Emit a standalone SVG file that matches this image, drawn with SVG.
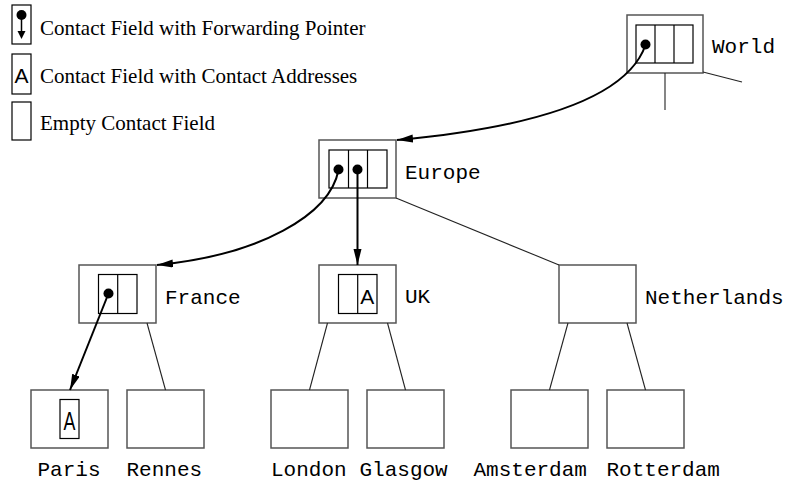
<svg xmlns="http://www.w3.org/2000/svg" width="787" height="481" viewBox="0 0 787 481">
<defs>
<style>
.box{fill:#fff;stroke:#555;stroke-width:1.5}
.cell{fill:none;stroke:#000;stroke-width:1.2}
.edge{fill:none;stroke:#222;stroke-width:1.1}
.ptr{fill:none;stroke:#000;stroke-width:2;marker-end:url(#ah)}
.dot{fill:#000}
.mono{font-family:"Liberation Mono","Courier New",monospace;font-size:21px;fill:#000}
.serif{font-family:"Liberation Serif","Times New Roman",serif;font-size:21px;fill:#000}
.sans{font-family:"Liberation Sans",Arial,sans-serif;font-size:21px;fill:#000}
</style>
<marker id="ah" markerUnits="userSpaceOnUse" markerWidth="17" markerHeight="9" refX="16" refY="4" orient="auto">
<path d="M0,0 L16,4 L0,8 Z" fill="#000"/>
</marker>
</defs>

<g id="legend">
<rect class="cell" x="12" y="5" width="19" height="39"/>
<circle class="dot" cx="21.5" cy="15" r="5"/>
<line x1="21.5" y1="15" x2="21.5" y2="32" stroke="#000" stroke-width="1.5"/>
<path d="M17.5,31 L25.5,31 L21.5,39 Z" fill="#000"/>
<text class="serif" x="40" y="35">Contact Field with Forwarding Pointer</text>
<rect class="cell" x="12" y="54" width="19" height="40"/>
<text class="sans" x="21.5" y="83" text-anchor="middle">A</text>
<text class="serif" x="40" y="83">Contact Field with Contact Addresses</text>
<rect class="cell" x="12" y="102" width="19" height="38"/>
<text class="serif" x="40" y="130">Empty Contact Field</text>
</g>

<g id="world">
<rect class="box" x="627" y="15" width="76" height="58"/>
<rect class="cell" x="636" y="25" width="57" height="38"/>
<line class="cell" x1="655" y1="25" x2="655" y2="63"/>
<line class="cell" x1="674" y1="25" x2="674" y2="63"/>
<circle class="dot" cx="645.5" cy="44.5" r="5"/>
<text class="mono" x="712" y="53">World</text>
</g>

<g id="europe">
<rect class="box" x="319" y="140" width="77" height="58"/>
<rect class="cell" x="329" y="150" width="58" height="38"/>
<line class="cell" x1="348.5" y1="150" x2="348.5" y2="188"/>
<line class="cell" x1="367.5" y1="150" x2="367.5" y2="188"/>
<circle class="dot" cx="338.5" cy="169.5" r="5"/>
<circle class="dot" cx="357.5" cy="169.5" r="5"/>
<text class="mono" x="405" y="179">Europe</text>
</g>

<g id="france">
<rect class="box" x="79" y="265" width="77" height="58"/>
<rect class="cell" x="98.5" y="274.5" width="38.5" height="39"/>
<line class="cell" x1="117.7" y1="274.5" x2="117.7" y2="313.5"/>
<circle class="dot" cx="108.5" cy="293.5" r="5"/>
<text class="mono" x="165" y="304">France</text>
</g>

<g id="uk">
<rect class="box" x="319" y="265" width="77" height="58"/>
<rect class="cell" x="338.5" y="274.5" width="38.5" height="39"/>
<line class="cell" x1="357.7" y1="274.5" x2="357.7" y2="313.5"/>
<text class="sans" x="367.3" y="303.5" text-anchor="middle">A</text>
<text class="mono" x="405" y="303">UK</text>
</g>

<g id="netherlands">
<rect class="box" x="559" y="265" width="77" height="58"/>
<text class="mono" x="645" y="304">Netherlands</text>
</g>

<g id="paris">
<rect class="box" x="31" y="390" width="77" height="58"/>
<rect class="cell" x="60" y="399.5" width="19" height="39"/>
<text class="sans" transform="translate(69.5,430) scale(0.85,1.2)" x="0" y="0" text-anchor="middle">A</text>
<text class="mono" x="37.5" y="476">Paris</text>
</g>

<g id="rennes">
<rect class="box" x="127" y="390" width="77" height="58"/>
<text class="mono" x="126.5" y="476">Rennes</text>
</g>

<g id="london">
<rect class="box" x="271" y="390" width="77" height="58"/>
<text class="mono" x="271" y="476">London</text>
</g>

<g id="glasgow">
<rect class="box" x="367" y="390" width="77" height="58"/>
<text class="mono" x="359.5" y="476">Glasgow</text>
</g>

<g id="amsterdam">
<rect class="box" x="511" y="390" width="77" height="58"/>
<text class="mono" x="473.5" y="476">Amsterdam</text>
</g>

<g id="rotterdam">
<rect class="box" x="607" y="390" width="77" height="58"/>
<text class="mono" x="606.5" y="476">Rotterdam</text>
</g>

<g id="connectors">
<line class="edge" x1="665" y1="73" x2="665" y2="110"/>
<line class="edge" x1="703" y1="72" x2="742" y2="82"/>
<line class="edge" x1="396" y1="198" x2="559" y2="265"/>
<line class="edge" x1="147" y1="323" x2="165.5" y2="390"/>
<line class="edge" x1="327.5" y1="323" x2="309.5" y2="390"/>
<line class="edge" x1="387.5" y1="323" x2="405.5" y2="390"/>
<line class="edge" x1="568" y1="323" x2="549.5" y2="390"/>
<line class="edge" x1="627" y1="323" x2="645.5" y2="390"/>
<path class="ptr" d="M645.5,45 C630,90 560,125 397,140"/>
<path class="ptr" d="M338.5,170 C330,215 260,255 157,265"/>
<line class="ptr" x1="357.5" y1="170" x2="357.5" y2="265"/>
<line class="ptr" x1="108.5" y1="293.5" x2="70" y2="390"/>
</g>
</svg>
